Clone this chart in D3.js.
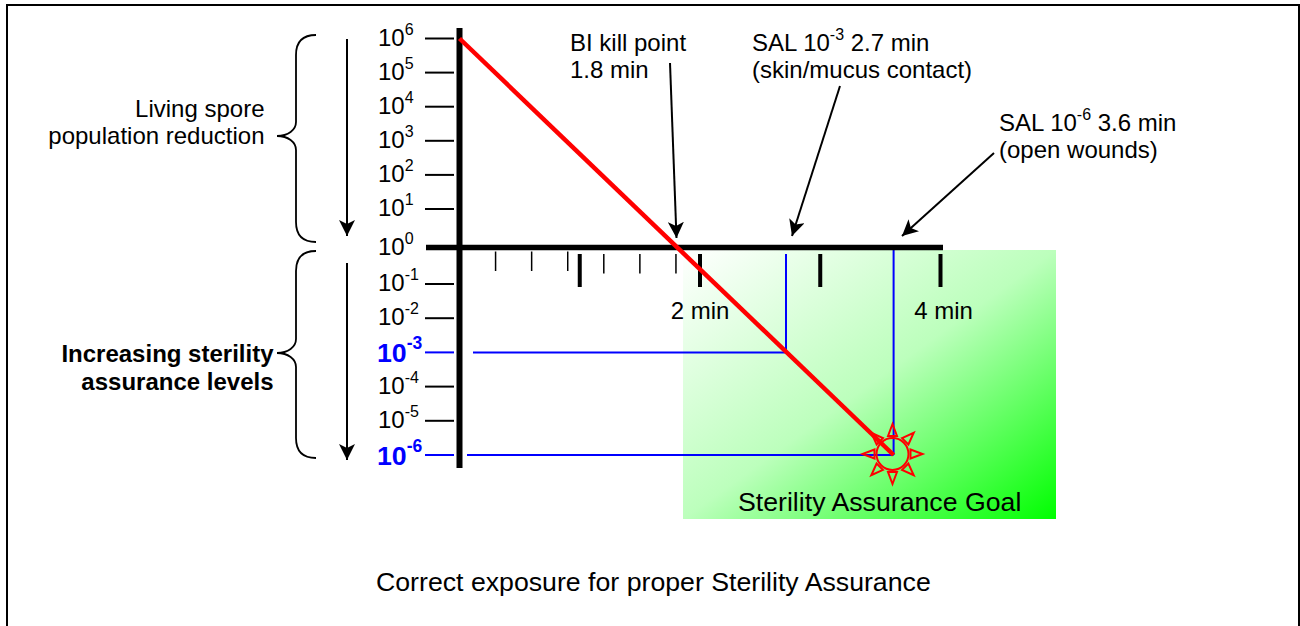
<!DOCTYPE html>
<html><head><meta charset="utf-8">
<script src="https://cdn.jsdelivr.net/npm/d3@7/dist/d3.min.js"></script>
<style>html,body{margin:0;padding:0;background:#fff;overflow:hidden}svg{display:block}text{font-family:"Liberation Sans",Arial,sans-serif;fill:#000}</style>
</head><body><svg id="c" width="1300" height="626"></svg>
<script>
const yExponents = [6,5,4,3,2,1,0,-1,-2,-3,-4,-5,-6];
const highlightedExponents = [-3,-6];
const minorTicks = [0.3,0.6,0.9,1.2,1.5,1.8];
const majorTicks = [1,2,3,4];
const labelledTicks = [2,4];
const killLine = [{t:0,e:6},{t:3.61,e:-6}];
const salLevels = [{t:2.715,e:-3,start:473},{t:3.61,e:-6,start:467}];
const sunAngles = [0,45,90,135,180,225,270,315];

const svg = d3.select("#c");
const defs = svg.append("defs");
const g = defs.append("linearGradient").attr("id","goal").attr("x1",0).attr("y1",0).attr("x2",1).attr("y2",1);
g.append("stop").attr("offset",0).attr("stop-color","#fff");
g.append("stop").attr("offset",0.5).attr("stop-color","#bcffbc");
g.append("stop").attr("offset",1).attr("stop-color","#0f0");
const m = defs.append("marker").attr("id","head").attr("markerUnits","userSpaceOnUse").attr("viewBox","0 0 16 16")
 .attr("refX",16).attr("refY",8).attr("markerWidth",16).attr("markerHeight",16).attr("orient","auto");
m.append("path").attr("d","M0,0L16,8L0,16L4,8Z").attr("fill","#000");

const x = d3.scaleLinear().domain([0,4]).range([459.5,940.5]);
const y = d3.scaleLinear().domain([6,1,0,-1,-6]).range([38.5,209,247.5,284,455]);

svg.append("rect").attr("x",7).attr("y",5).attr("width",1292).attr("height",700).attr("fill","none").attr("stroke","#000").attr("stroke-width",2);
svg.append("rect").attr("x",683).attr("y",250).attr("width",373).attr("height",269).attr("fill","url(#goal)");

const line = (x1,y1,x2,y2,c,w)=>svg.append("line").attr("x1",x1).attr("y1",y1).attr("x2",x2).attr("y2",y2).attr("stroke",c).attr("stroke-width",w);

// y ticks and labels
yExponents.forEach(e=>{
  const hi = highlightedExponents.includes(e);
  if(e!==0) line(425,y(e),454,y(e),hi?"#00f":"#000",2);
  const t = svg.append("text").attr("x",hi?377:378).attr("y",y(e)+(hi?10:7)).attr("font-size",hi?26.7:24)
    .attr("font-weight",hi?"bold":"normal").style("fill",hi?"#00f":"#000");
  t.append("tspan").text("10");
  t.append("tspan").attr("dy",hi?-13:-11).attr("font-size",hi?17.5:16).text(e);
});
// x ticks
minorTicks.forEach(t=>line(x(t),t<1?251.5:254,x(t),t<1?271:273.5,"#000",1.5));
majorTicks.forEach(t=>line(x(t),254,x(t),287,"#000",4));
labelledTicks.forEach(t=>svg.append("text").attr("x",x(t)+(t===4?3:0)).attr("y",319).attr("text-anchor","middle").attr("font-size",24).text(t+" min"));

// SAL guides
salLevels.forEach(d=>{
  line(d.start,y(d.e),x(d.t),y(d.e),"#00f",2);
  line(x(d.t),d.e===-3?254:250,x(d.t),y(d.e),"#00f",2);
});
// axes
line(459.5,28,459.5,468,"#000",6);
line(426,247.5,943,247.5,"#000",5.5);
// kill line
line(x(killLine[0].t),y(killLine[0].e),x(killLine[1].t),y(killLine[1].e),"#f00",4.5);

// sun
const sun = svg.append("g").attr("transform",`translate(892.5,454)`).attr("fill","none").attr("stroke","#f00").attr("stroke-width",2);
sun.append("circle").attr("r",16);
sun.selectAll("path").data(sunAngles).join("path").attr("d","M18,-4.5L30,0L18,4.5Z").attr("transform",d=>`rotate(${d})`);

// arrows
const arrow=(x1,y1,x2,y2)=>line(x1,y1,x2,y2,"#000",2).attr("marker-end","url(#head)");
arrow(347,39,347,236);
arrow(347,263,347,460);
arrow(670,63,676.5,238);
arrow(840,86,792,236);
arrow(994,153,902,236);

// braces
const brace=(top,mid,bot)=>svg.append("path").attr("fill","none").attr("stroke","#000").attr("stroke-width",1.8)
 .attr("d",`M316,${top}C302,${top} 296,${top+8} 296,${top+20}L296,${mid-14}C296,${mid-6} 288,${mid} 277,${mid}C288,${mid} 296,${mid+6} 296,${mid+14}L296,${bot-20}C296,${bot-8} 302,${bot} 316,${bot}`);
brace(35,136,242);
brace(251,353,458);

// text
const label=(tx,ty,s,o={})=>svg.append("text").attr("x",tx).attr("y",ty).attr("font-size",o.size||24).attr("font-weight",o.bold?"bold":"normal").attr("text-anchor",o.anchor||"start").text(s);
label(264.5,117,"Living spore",{anchor:"end"});
label(264.5,144,"population reduction",{anchor:"end"});
label(273.5,362,"Increasing sterility",{anchor:"end",bold:true});
label(273.5,389.5,"assurance levels",{anchor:"end",bold:true});
label(570,51,"BI kill point");
label(570,78,"1.8 min");
const s1=label(752,51,"SAL 10");s1.append("tspan").attr("dy",-11).attr("font-size",16).text("-3");s1.append("tspan").attr("dy",11).text(" 2.7 min");
label(752,78,"(skin/mucus contact)");
const s2=label(999,131,"SAL 10");s2.append("tspan").attr("dy",-11).attr("font-size",16).text("-6");s2.append("tspan").attr("dy",11).text(" 3.6 min");
label(999,158,"(open wounds)");
label(738,511,"Sterility Assurance Goal",{size:26.7});
label(376,591,"Correct exposure for proper Sterility Assurance",{size:26.7});
</script></body></html>
